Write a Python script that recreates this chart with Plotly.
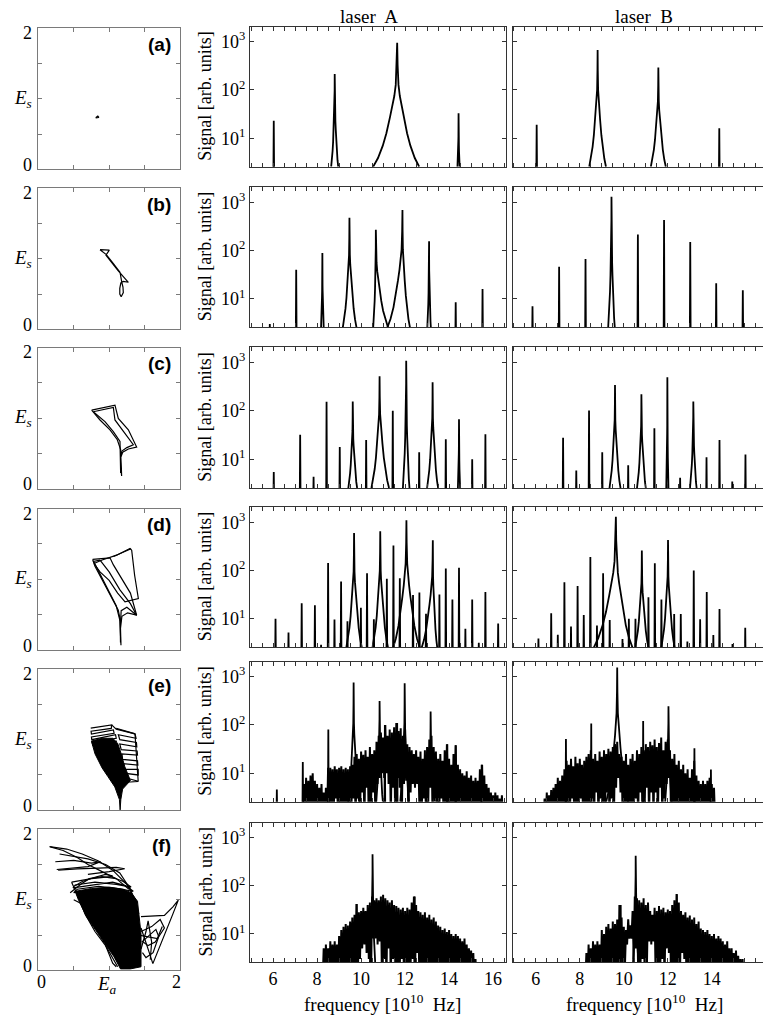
import numpy as np
import plotly.graph_objects as go

W, H = 763, 1016
SERIF = "Liberation Serif"
SANS = "Liberation Sans"

# ---------------------------------------------------------------------------
# Spectra: discrete lines.  frequency [1e10 Hz], peak height [arb. units],
# left / right half-width of the Lorentzian skirt (0 = bare line)
# ---------------------------------------------------------------------------
A1_F = [6.03, 8.80, 11.64, 14.43]
A1_H = [23, 213, 950, 33]
A1_WL = [0, 0.16, 1.09, 0.05]
A1_WR = [0, 0.16, 1.00, 0.05]

B1_F = [6.04, 8.81, 11.57, 14.34]
B1_H = [19, 670, 290, 16]
B1_WL = [0, 0.38, 0.34, 0]
B1_WR = [0, 0.38, 0.34, 0]

A2_F = [5.85, 7.05, 8.24, 9.47, 10.67, 11.88, 13.09, 14.30, 15.52]
A2_H = [3, 40, 89, 475, 270, 690, 156, 8.5, 16]
A2_WL = [0, 0, 0.06, 0.30, 0.12, 0.68, 0.08, 0, 0]
A2_WR = [0, 0, 0.06, 0.32, 0.55, 0.34, 0.08, 0, 0]

B2_F = [5.85, 7.06, 8.26, 9.44, 10.64, 11.83, 13.02, 14.20, 15.41]
B2_H = [7, 46, 67, 1300, 215, 430, 150, 21, 15]
B2_WL = [0, 0, 0, 0.15, 0, 0, 0, 0, 0]
B2_WR = [0, 0, 0, 0.15, 0, 0, 0, 0, 0]

A3_F = [6.03, 7.23, 7.84, 8.43, 9.03, 9.62, 10.23, 10.84, 11.44, 12.05,
        12.64, 13.25, 13.85, 14.45, 15.05, 15.65]
A3_H = [5.5, 32, 4.4, 154, 18, 156, 25, 515, 100, 1080, 14, 390, 26, 67, 10, 33]
A3_WL = [0, 0, 0, 0, 0, 0.20, 0, 0.37, 0, 0.15, 0, 0.25, 0, 0.05, 0, 0]
A3_WR = [0, 0, 0, 0, 0, 0.20, 0, 0.43, 0, 0.15, 0, 0.25, 0, 0.05, 0, 0]

B3_F = [7.24, 7.84, 8.42, 9.02, 9.60, 10.20, 10.80, 11.39, 11.98, 12.56,
        13.16, 13.76, 14.35, 14.93, 15.53]
B3_H = [28, 5.9, 102, 14, 340, 7.6, 220, 44, 490, 4.2, 155, 11, 25, 3.5, 12.6]
B3_WL = [0, 0, 0, 0, 0.25, 0, 0.20, 0, 0.05, 0, 0.15, 0, 0, 0, 0]
B3_WR = [0, 0, 0, 0, 0.25, 0, 0.20, 0, 0.05, 0, 0.15, 0, 0, 0, 0]

A4_F = [6.11, 6.70, 7.30, 7.90, 8.18, 8.50, 8.79, 9.09, 9.38, 9.68, 9.99,
        10.27, 10.58, 10.87, 11.17, 11.47, 11.76, 12.06, 12.36, 12.65, 12.95,
        13.26, 13.56, 13.85, 14.15, 14.45, 14.74, 15.05, 15.35, 15.65, 16.23]
A4_H = [10, 5.2, 21, 19, 2.9, 143, 9.7, 59, 8.9, 600, 17, 88, 9.8, 650, 68,
        330, 69, 1100, 31, 35, 12.7, 424, 32, 110, 25, 114, 6.2, 25, 3.2, 36, 8]
A4_WL = [0, 0, 0, 0, 0, 0, 0, 0, 0, 0.35, 0, 0, 0, 0.35, 0, 0, 0, 0.60, 0, 0,
         0, 0.50, 0, 0, 0, 0, 0, 0, 0, 0, 0]
A4_WR = [0, 0, 0, 0, 0, 0, 0, 0, 0, 0.35, 0, 0, 0, 0.35, 0, 0, 0, 0.60, 0, 0,
         0, 0.20, 0, 0, 0, 0, 0, 0, 0, 0, 0]

B4_F = [6.12, 6.70, 7.00, 7.30, 7.60, 7.90, 8.18, 8.48, 8.78, 9.06, 9.36,
        9.64, 9.94, 10.23, 10.53, 10.82, 11.12, 11.41, 11.71, 12.01, 12.29,
        12.59, 12.89, 13.18, 13.47, 13.77, 14.07, 14.35, 14.94, 15.52]
B4_H = [3.9, 13, 4.7, 57, 6.9, 48, 12, 190, 7.3, 88, 9.5, 1300, 3.8, 10, 10,
        260, 28, 142, 25, 430, 12.6, 12.6, 3.4, 100, 9.8, 36, 4.6, 16, 3, 6.5]
B4_WL = [0, 0, 0, 0, 0, 0, 0, 0, 0, 0, 0, 1.00, 0, 0, 0, 0.30, 0, 0, 0, 0.30,
         0, 0, 0, 0, 0, 0, 0, 0, 0, 0]
B4_WR = [0, 0, 0, 0, 0, 0, 0, 0, 0, 0, 0, 0.75, 0, 0, 0, 0.30, 0, 0, 0, 0.30,
         0, 0, 0, 0, 0, 0, 0, 0, 0, 0]

A5_F = [6.17, 7.35, 8.51, 9.66, 10.84, 11.08, 11.64, 11.98, 13.16, 13.92, 14.30, 15.48]
A5_H = [4.6, 17, 80, 760, 315, 100, 110, 730, 190, 40, 38, 15]
A5_WL = [0, 0, 0, 0.25, 0.15, 0, 0, 0.20, 0.20, 0, 0, 0]
A5_WR = [0, 0, 0, 0.25, 0.15, 0, 0, 0.20, 0.20, 0, 0, 0]

B5_F = [7.37, 8.52, 9.70, 10.88, 12.03, 13.21, 13.96]
B5_H = [51, 107, 1550, 120, 245, 33, 12]
B5_WL = [0, 0, 0.50, 0, 0.15, 0, 0]
B5_WR = [0, 0, 0.50, 0, 0.15, 0, 0]

A6_F = [9.79, 10.52, 12.44]
A6_H = [42, 450, 60]
A6_WL = [0, 0.12, 0]
A6_WR = [0, 0.12, 0]

B6_F = [9.86, 10.54, 12.41]
B6_H = [40, 420, 67]
B6_WL = [0, 0.12, 0]
B6_WR = [0, 0.12, 0]

# ---------------------------------------------------------------------------
# Spectra: broadband part, sampled every 0.1 (upper / lower excursion)
# ---------------------------------------------------------------------------
GRID_STEP = 0.1

A5_START = 7.4
A5_UP = [6, 8, 7, 9, 10, 7, 6, 5, 6, 4, 5,
         13, 13, 12, 14, 12, 13, 14, 12, 13, 12, 14, 15,
         22, 25, 20, 28, 24, 30, 22, 35, 25, 30, 45,
         60, 70, 55, 100, 60, 80, 70, 90, 110, 75, 85, 60, 80,
         40, 35, 30, 25, 30, 22, 28, 20, 30, 35,
         50, 60, 35, 28, 20, 25, 18, 30, 40, 20,
         15, 25, 38, 15, 12, 10, 9, 11, 8, 9,
         7, 8, 7, 12, 15, 9, 6, 5, 4, 3.5,
         4, 3.5, 3, 3.5]
A5_LO = [1, 1, 1, 2, 1, 1, 1, 1, 1, 1, 1,
         1, 2, 1, 3, 1, 2, 1, 1, 2, 1, 1, 3,
         1, 3, 1, 4, 1, 5, 1, 2, 4, 1, 6,
         8, 10, 8, 10, 6, 1, 5, 1, 8, 5, 1, 6, 7,
         1, 4, 6, 5, 6, 2, 1, 3, 1, 2,
         5, 1, 3, 1, 1, 3, 1, 2, 1, 1,
         1, 2, 1, 1, 1, 2, 1, 1, 1, 1,
         1, 1, 1, 1, 1, 1, 1, 1, 1, 1,
         1, 1, 1, 1]

B5_START = 6.4
B5_UP = [3, 4, 3.5, 4.5, 5, 6, 8, 7, 9, 12,
         18, 15, 20, 14, 22, 16, 20, 15, 18, 22,
         25, 30, 20, 25, 18, 28, 22, 30, 25, 32,
         28, 35, 40, 45, 25, 22, 18, 25, 15, 20,
         25, 18, 30, 25, 35, 30, 40, 35, 45, 38,
         50, 35, 42, 55, 30, 45, 50, 30, 20, 25,
         15, 18, 12, 15, 10, 12, 8, 12, 18, 9,
         7, 6, 7, 6, 7, 8, 6, 5]
B5_LO = [1, 1, 1, 1, 1, 1, 1, 1, 1, 1,
         2, 1, 3, 1, 2, 1, 3, 1, 2, 1,
         1, 3, 1, 4, 1, 3, 1, 2, 4, 1,
         3, 1, 5, 8, 4, 1, 2, 1, 1, 1,
         1, 3, 1, 4, 1, 2, 5, 1, 4, 1,
         4, 1, 5, 1, 3, 6, 8, 1, 1, 1,
         1, 1, 1, 1, 1, 1, 1, 1, 1, 1,
         1, 1, 1, 1, 1, 1, 1, 1]

A6_START = 8.3
A6_UP = [5, 6, 5, 7, 6, 7, 6, 9, 12, 14,
         16, 15, 18, 22, 25, 42, 28, 30, 35, 30,
         40, 45, 60, 50, 55, 50, 60, 65, 55, 50,
         45, 50, 40, 38, 35, 32, 35, 30, 35, 32,
         45, 60, 40, 30, 28, 25, 28, 22, 25, 20,
         22, 18, 15, 14, 12, 13, 11, 12, 10, 9,
         10, 9, 8, 7, 8, 6, 5, 4.5, 4, 3]
A6_LO = [1, 1, 1, 1, 1, 1, 1, 1, 1, 1,
         1, 1, 2, 1, 2, 1, 3, 5, 6, 4,
         3, 1, 8, 8, 6, 7, 1, 3, 1, 5,
         1, 3, 1, 2, 1, 3, 1, 2, 1, 2,
         3, 1, 4, 1, 2, 1, 1, 2, 1, 1,
         1, 1, 1, 1, 1, 1, 1, 1, 1, 1,
         1, 1, 1, 1, 1, 1, 1, 1, 1, 1]

B6_START = 8.3
B6_UP = [4, 6, 5, 7, 6, 7, 6, 12, 10, 14,
         16, 13, 18, 16, 20, 40, 22, 14, 12, 20,
         15, 30, 60, 55, 50, 45, 55, 40, 45, 30,
         25, 35, 30, 38, 32, 35, 28, 32, 30, 40,
         50, 67, 45, 30, 25, 28, 22, 24, 20, 22,
         16, 18, 13, 12, 11, 12, 10, 9, 10, 8,
         9, 8, 7, 6, 7, 5, 5, 4, 4.5, 3.5, 3, 3]
B6_LO = [1, 1, 1, 1, 1, 1, 1, 1, 1, 1,
         1, 2, 1, 2, 1, 3, 1, 2, 6, 8,
         8, 3, 5, 2, 1, 3, 1, 2, 7, 6,
         7, 1, 2, 1, 3, 1, 5, 4, 1, 2,
         1, 3, 1, 4, 3, 1, 2, 1, 1, 1,
         1, 1, 1, 1, 1, 1, 1, 1, 1, 1,
         1, 1, 1, 1, 1, 1, 1, 1, 1, 1, 1, 1]

# Lorentzian skirt profile: fraction of half-width vs fraction of log height
SKIRT_U = [0.0, 0.02, 0.06, 0.12, 0.20, 0.30, 0.45, 0.60, 0.80, 1.0]
SKIRT_V = [1.0, 0.82, 0.66, 0.57, 0.49, 0.40, 0.27, 0.17, 0.07, 0.0]
SPIKE_HALF = 0.02

# ---------------------------------------------------------------------------
# Phase portraits (E_a, E_s)
# ---------------------------------------------------------------------------
PA_X = [0.81, 0.84, 0.855, 0.81]
PA_Y = [0.73, 0.755, 0.735, 0.73]

PB_X = [0.871, 1.002, 0.955, 1.04, 1.12, 1.271, 1.20, 1.165, 1.150, 1.150, 1.17,
        1.20, 1.195, 1.18, 1.153, 1.06, 0.96, 0.871]
PB_Y = [1.129, 1.122, 1.05, 0.94, 0.84, 0.667, 0.68, 0.66, 0.58, 0.50, 0.462,
        0.52, 0.60, 0.66, 0.81, 0.93, 1.06, 1.129]

PC_X = [0.753, 1.082, 1.129, 1.271, 1.388, 1.271, 1.191, 1.162, 1.167, 1.176,
        1.172, 1.165, 1.162, 1.115, 1.012, 0.871, 0.753, None,
        0.776, 1.059, 1.082, 1.224, 1.341, 1.25, 1.18, 1.158, 1.16, 1.162,
        1.158, 1.153, 1.153, 1.059, 0.941, 0.776]
PC_Y = [1.112, 1.182, 0.995, 0.832, 0.589, 0.561, 0.514, 0.435, 0.271, 0.178,
        0.30, 0.45, 0.551, 0.692, 0.832, 0.972, 1.112, None,
        1.089, 1.150, 0.972, 0.785, 0.621, 0.58, 0.53, 0.44, 0.30, 0.22,
        0.35, 0.50, 0.668, 0.808, 0.949, 1.089]

PD_X = [0.767, 1.012, 1.06, 1.18, 1.30, 1.388, 1.26, 1.18, 1.16, 1.167, 1.162,
        1.15, 1.129, 1.03, 0.90, 0.80, 0.767, None,
        0.786, 0.90, 1.106, 1.294, 1.318, 1.36, 1.412, 1.224, 1.12, 1.00, 0.871,
        0.786, None,
        0.871, 1.00, 1.15, 1.30, 1.388, 1.25, 1.17, 1.158, 1.16, 1.155, 1.10,
        0.98, 0.86, 0.78, 0.871, None,
        1.06, 1.31]
PD_Y = [1.277, 1.30, 1.20, 1.00, 0.80, 0.487, 0.52, 0.47, 0.30, 0.061, 0.25,
        0.45, 0.558, 0.75, 1.00, 1.18, 1.277, None,
        1.22, 1.27, 1.338, 1.433, 1.409, 1.05, 0.723, 0.676, 0.80, 0.98, 1.10,
        1.22, None,
        1.267, 1.10, 0.85, 0.65, 0.487, 0.60, 0.55, 0.35, 0.10, 0.40, 0.62,
        0.85, 1.08, 1.25, 1.267, None,
        1.32, 1.43]

# (e): densely filled core plus the banded upper / right parts of the orbit
PE_FILL_X = [0.75, 0.90, 1.05, 1.12, 1.17, 1.22, 1.30, 1.27, 1.19, 1.165,
             1.155, 1.145, 1.08, 0.98, 0.90, 0.80, 0.76, 0.75]
PE_FILL_Y = [0.98, 1.02, 1.02, 0.95, 0.80, 0.62, 0.42, 0.385, 0.30, 0.15,
             0.005, 0.15, 0.33, 0.48, 0.60, 0.80, 0.92, 0.98]
PE_X = [0.74, 1.035, 1.03, 0.745, 0.75, 1.06, 1.07, 0.75, 0.755, 1.09, 1.10, 0.76,
        0.77, 1.11, None,
        1.10, 1.365, 1.38, 1.13, 1.15, 1.385, 1.39, 1.15, 1.17, 1.395, 1.40, 1.18,
        1.19, 1.40, 1.405, 1.20, 1.21, 1.41, 1.41, 1.25, 1.27, 1.41, 1.30, 1.25,
        None, 1.365, 1.41, None, 1.035, 1.10, 1.365]
PE_Y = [1.165, 1.21, 1.16, 1.12, 1.08, 1.14, 1.09, 1.04, 1.00, 1.07, 1.02, 0.96,
        0.92, 0.98, None,
        1.16, 1.083, 1.02, 1.07, 1.00, 0.96, 0.90, 0.94, 0.86, 0.84, 0.78, 0.80,
        0.72, 0.70, 0.64, 0.66, 0.58, 0.58, 0.50, 0.52, 0.45, 0.41, 0.40, 0.40,
        None, 1.083, 0.407, None, 1.21, 1.15, 1.083]

# (f): chaotic orbit - dense wedge-shaped core and loose outer strands
PF_FILL_X = [0.52, 0.75, 1.00, 1.20, 1.31, 1.40, 1.45, 1.45, 1.30, 1.16, 1.07,
             0.88, 0.68, 0.57, 0.52]
PF_FILL_Y = [1.12, 1.16, 1.18, 1.15, 1.10, 0.98, 0.52, 0.05, 0.02, 0.02, 0.19,
             0.47, 0.76, 0.99, 1.12]
PF_X = [0.158, 0.40, 0.62, 0.85, 1.05, 1.25, 1.40, None,
        0.17, 0.35, 0.55, 0.70, 0.90, 1.10, 1.28, None,
        0.24, 0.50, 0.75, 0.88, 0.70, 0.45, 0.26, None,
        0.28, 0.55, 0.85, 1.10, 1.22, 1.00, 0.70, None,
        0.47, 0.75, 1.02, 1.20, 1.31, 1.10, 0.80, 0.52, 0.49, 0.78, 1.05, 1.24,
        1.34, 1.12, 0.85, 0.55, 0.50, 0.80, 1.10, 1.28, 1.36, None,
        0.52, 0.62, 0.80, 0.95, 1.05, None,
        0.30, 0.50, 0.70, 0.95, 1.15, 1.30, 1.42, None,
        0.45, 0.60, 0.72, 0.90, 1.10, None,
        0.50, 0.70, 0.85, 1.02, 1.17, 1.30, None,
        0.47, 0.56, 0.66, 0.80, 0.95, 1.05, 1.12, None,
        1.45, 1.62, 1.78, 1.90, 1.976, 1.90, 1.80, 1.70, 1.617, 1.55, 1.50, 1.45, None,
        1.45, 1.60, 1.72, 1.78, 1.65, 1.55, 1.48, None,
        1.46, 1.58, 1.66, 1.70, 1.62, 1.52, 1.47, None,
        1.45, 1.52, 1.55, 1.60, 1.58, None,
        1.42, 1.55, 1.68, 1.75, None,
        0.95, 1.05, 1.10]
PF_Y = [1.754, 1.72, 1.65, 1.55, 1.42, 1.22, 0.95, None,
        1.75, 1.70, 1.60, 1.50, 1.40, 1.30, 1.15, None,
        1.54, 1.56, 1.52, 1.54, 1.47, 1.45, 1.43, None,
        1.42, 1.44, 1.45, 1.46, 1.44, 1.40, 1.36, None,
        1.25, 1.30, 1.33, 1.26, 1.18, 1.22, 1.25, 1.21, 1.17, 1.21, 1.25, 1.20,
        1.12, 1.16, 1.19, 1.15, 1.10, 1.14, 1.13, 1.08, 1.02, None,
        1.20, 1.26, 1.32, 1.36, 1.34, None,
        1.65, 1.62, 1.58, 1.50, 1.38, 1.15, 0.80, None,
        1.10, 1.22, 1.30, 1.33, 1.30, None,
        1.00, 0.90, 0.70, 0.50, 0.30, 0.10, None,
        1.25, 1.05, 0.80, 0.55, 0.35, 0.18, 0.05, None,
        0.76, 0.77, 0.78, 0.90, 0.995, 0.80, 0.55, 0.30, 0.095, 0.30, 0.45, 0.60, None,
        0.55, 0.62, 0.72, 0.60, 0.40, 0.35, 0.40, None,
        0.40, 0.50, 0.58, 0.48, 0.25, 0.18, 0.25, None,
        0.30, 0.55, 0.70, 0.40, 0.15, None,
        0.50, 0.47, 0.45, 0.62, None,
        0.35, 0.10, 0.05]

PANEL_TAGS = ["(a)", "(b)", "(c)", "(d)", "(e)", "(f)"]
FREQ_TICKS = [6, 8, 10, 12, 14, 16]

# ---------------------------------------------------------------------------
# Layout geometry (pixels)
# ---------------------------------------------------------------------------
LEFT_X = (38.3, 180.0)
MID_X = (250.0, 506.0)
RIGHT_X = (512.7, 763.0)
LEFT_TOPS = [28.3, 188.3, 347.5, 508.5, 669.2, 829.3]
LEFT_HEIGHT = 141.0
SPEC_ROWS = [(26.7, 166.7), (187.3, 327.3), (347.3, 488.0),
             (507.3, 647.3), (661.7, 801.7), (822.7, 962.3)]
PX_PER_UNIT = 22.0
F_MIN = 4.95
LOG_RANGE = [0.41, 3.31]
LOG_FLOOR = LOG_RANGE[0]


def xdom(a, b):
    return [a / W, min(b / W, 1.0)]


def ydom(top, bottom):
    return [1 - bottom / H, 1 - top / H]


def peak_path(freqs, heights, wl, wr):
    xs, ys = [], []
    for f, h, a, b in zip(freqs, heights, wl, wr):
        top = np.log10(h)
        if a > 0:
            for u, v in zip(SKIRT_U[::-1], SKIRT_V[::-1]):
                xs.append(f - u * a)
                ys.append(10 ** (LOG_FLOOR + v * (top - LOG_FLOOR)))
        else:
            xs += [f - SPIKE_HALF, f]
            ys += [1.0, h]
        if b > 0:
            for u, v in zip(SKIRT_U[1:], SKIRT_V[1:]):
                xs.append(f + u * b)
                ys.append(10 ** (LOG_FLOOR + v * (top - LOG_FLOOR)))
        else:
            xs.append(f + SPIKE_HALF)
            ys.append(1.0)
        xs.append(None)
        ys.append(None)
    return xs, ys


def noise_path(start, upper, lower):
    xs, ys = [start - GRID_STEP / 2], [1.0]
    for i, (u, l) in enumerate(zip(upper, lower)):
        f = start + GRID_STEP * i
        xs += [f, f + GRID_STEP / 2]
        ys += [u, l]
    xs.append(start + GRID_STEP * len(upper))
    ys.append(1.0)
    return xs, ys


PEAKS_A = [(A1_F, A1_H, A1_WL, A1_WR), (A2_F, A2_H, A2_WL, A2_WR),
           (A3_F, A3_H, A3_WL, A3_WR), (A4_F, A4_H, A4_WL, A4_WR),
           (A5_F, A5_H, A5_WL, A5_WR), (A6_F, A6_H, A6_WL, A6_WR)]
PEAKS_B = [(B1_F, B1_H, B1_WL, B1_WR), (B2_F, B2_H, B2_WL, B2_WR),
           (B3_F, B3_H, B3_WL, B3_WR), (B4_F, B4_H, B4_WL, B4_WR),
           (B5_F, B5_H, B5_WL, B5_WR), (B6_F, B6_H, B6_WL, B6_WR)]
NOISE_A = {4: (A5_START, A5_UP, A5_LO), 5: (A6_START, A6_UP, A6_LO)}
NOISE_B = {4: (B5_START, B5_UP, B5_LO), 5: (B6_START, B6_UP, B6_LO)}
PHASE_LINES = [(PA_X, PA_Y), (PB_X, PB_Y), (PC_X, PC_Y), (PD_X, PD_Y),
               (PE_X, PE_Y), (PF_X, PF_Y)]
PHASE_FILLS = {4: (PE_FILL_X, PE_FILL_Y), 5: (PF_FILL_X, PF_FILL_Y)}

fig = go.Figure()
layout = dict(
    width=W, height=H, margin=dict(l=0, r=0, t=0, b=0),
    paper_bgcolor="white", plot_bgcolor="white", showlegend=False,
    font=dict(family=SERIF, size=18, color="black"),
)
annotations = []

GRAY = "#7a7a7a"
DARK = "#333333"
half_ticks = list(np.arange(5.0, 16.6, 0.5))


def note(text, x, y, size=18, family=SERIF, **kw):
    annotations.append(dict(text=text, x=x / W, y=1 - y / H, xref="paper", yref="paper",
                            xanchor=kw.pop("xanchor", "center"), yanchor="middle",
                            showarrow=False, font=dict(family=family, size=size,
                                                       color="black"), **kw))


for r in range(6):
    base = r * 3
    # ---------------- phase portrait ----------------
    i = base + 1
    xa, ya = ("x" if i == 1 else f"x{i}"), ("y" if i == 1 else f"y{i}")
    top = LEFT_TOPS[r]
    common = dict(range=[0, 2], showgrid=False, zeroline=False, showline=True,
                  linecolor=GRAY, linewidth=1, mirror="allticks", ticks="inside",
                  ticklen=4, tickcolor=GRAY, tickvals=[0.5, 1, 1.5],
                  showticklabels=False)
    layout["xaxis" if i == 1 else f"xaxis{i}"] = dict(domain=xdom(*LEFT_X), anchor=ya,
                                                      **common)
    layout["yaxis" if i == 1 else f"yaxis{i}"] = dict(
        domain=ydom(top, top + LEFT_HEIGHT), anchor=xa, **common)
    if r in PHASE_FILLS:
        fx, fy = PHASE_FILLS[r]
        fig.add_trace(go.Scatter(x=fx, y=fy, mode="lines", fill="toself",
                                 fillcolor="black", line=dict(color="black", width=1.0),
                                 xaxis=xa, yaxis=ya, hoverinfo="skip"))
    lx, ly = PHASE_LINES[r]
    fig.add_trace(go.Scatter(x=lx, y=ly, mode="lines",
                             line=dict(color="black", width=1.2),
                             xaxis=xa, yaxis=ya, hoverinfo="skip"))
    note(f"<b>{PANEL_TAGS[r]}</b>", 173, top + 16, size=19, family=SANS, xanchor="right")
    note("<i>E</i><sub><i>s</i></sub>", 23, top + LEFT_HEIGHT / 2, size=19)
    note("2", 34, top + 5, xanchor="right")
    note("0", 34, top + LEFT_HEIGHT - 4, xanchor="right")

    # ---------------- spectra, laser A and laser B ----------------
    for c, (xd, peaks, noise) in enumerate([(MID_X, PEAKS_A, NOISE_A),
                                           (RIGHT_X, PEAKS_B, NOISE_B)]):
        i = base + 2 + c
        xa, ya = f"x{i}", f"y{i}"
        t, b = SPEC_ROWS[r]
        width_units = (xd[1] - xd[0]) / PX_PER_UNIT
        layout[f"xaxis{i}"] = dict(
            domain=xdom(*xd), range=[F_MIN, F_MIN + width_units], anchor=ya,
            showgrid=False, zeroline=False, showline=True, linecolor=DARK, linewidth=1,
            mirror="allticks", ticks="inside", ticklen=4, tickcolor=DARK,
            tickvals=half_ticks,
            ticktext=[str(int(v)) if (v in FREQ_TICKS) else "" for v in half_ticks],
            showticklabels=(r == 5), tickfont=dict(family=SERIF, size=18))
        layout[f"yaxis{i}"] = dict(
            domain=ydom(t, b), type="log", range=LOG_RANGE, anchor=xa, showgrid=False,
            zeroline=False, showline=True, linecolor=DARK, linewidth=1,
            mirror="allticks" if c == 0 else False, ticks="inside", ticklen=4,
            tickcolor=DARK, tickvals=[10, 100, 1000],
            ticktext=["10<sup>1</sup>", "10<sup>2</sup>", "10<sup>3</sup>"],
            showticklabels=(c == 0), tickfont=dict(family=SERIF, size=18))
        if r in noise:
            nx, ny = noise_path(*noise[r])
            fig.add_trace(go.Scatter(x=nx, y=ny, mode="lines",
                                     line=dict(color="black", width=2.0),
                                     xaxis=xa, yaxis=ya, hoverinfo="skip"))
        px_, py_ = peak_path(*peaks[r])
        fig.add_trace(go.Scatter(x=px_, y=py_, mode="lines",
                                 line=dict(color="black", width=1.8),
                                 xaxis=xa, yaxis=ya, hoverinfo="skip"))
        if c == 0:
            note("Signal [arb. units]", 205, (t + b) / 2, textangle=-90)

# column titles and axis titles
note("laser  A", 368.7, 16.7, size=19)
note("laser  B", 643.8, 16.7, size=19)
note("frequency [10<sup>10</sup>  Hz]", 382, 1003, size=19)
note("frequency [10<sup>10</sup>  Hz]", 644.5, 1003, size=19)
note("0", 41.7, 981.7)
note("2", 176.7, 981.7)
note("<i>E</i><sub><i>a</i></sub>", 106.7, 985, size=19)

layout["annotations"] = annotations
fig.update_layout(**layout)
fig.write_html("out.html")
